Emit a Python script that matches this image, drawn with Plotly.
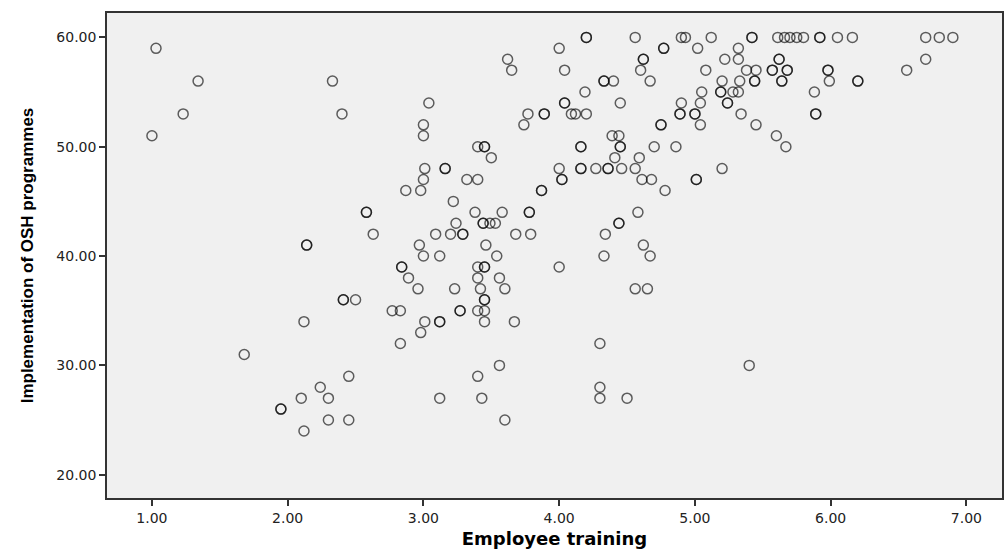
import plotly.graph_objects as go

# Employee training (x) and Implementation of OSH programmes (y), read row by row
x_training = [
    # y = 60
    4.20, 4.20, 4.56, 4.90, 4.93, 5.12, 5.42, 5.42, 5.61, 5.66, 5.70, 5.75, 5.80, 5.92, 5.92, 6.05, 6.16, 6.70, 6.80, 6.90,
    # y = 59
    1.03, 4.00, 4.77, 4.77, 5.02, 5.32,
    # y = 58
    3.62, 4.62, 4.62, 5.22, 5.32, 5.62, 5.62, 6.70,
    # y = 57
    3.65, 4.04, 4.60, 5.08, 5.38, 5.45, 5.57, 5.57, 5.68, 5.68, 5.98, 5.98, 6.56,
    # y = 56
    1.34, 2.33, 4.33, 4.33, 4.40, 4.67, 5.20, 5.33, 5.44, 5.44, 5.64, 5.64, 5.99, 6.20, 6.20,
    # y = 55
    4.19, 5.05, 5.19, 5.19, 5.28, 5.32, 5.88,
    # y = 54
    3.04, 4.04, 4.04, 4.45, 4.90, 5.04, 5.24, 5.24,
    # y = 53
    1.23, 2.40, 3.77, 3.89, 3.89, 4.09, 4.12, 4.20, 4.89, 4.89, 5.00, 5.00, 5.34, 5.89, 5.89,
    # y = 52
    3.00, 3.74, 4.75, 4.75, 5.04, 5.45,
    # y = 51
    1.00, 3.00, 4.39, 4.44, 5.60,
    # y = 50
    3.40, 3.45, 3.45, 4.16, 4.16, 4.45, 4.45, 4.70, 4.86, 5.67,
    # y = 49
    3.50, 4.41, 4.59,
    # y = 48
    3.01, 3.16, 3.16, 4.00, 4.16, 4.16, 4.27, 4.36, 4.36, 4.46, 4.56, 5.20,
    # y = 47
    3.00, 3.32, 3.40, 4.02, 4.02, 4.61, 4.68, 5.01, 5.01,
    # y = 46
    2.87, 2.98, 3.87, 3.87, 4.78,
    # y = 45
    3.22,
    # y = 44
    2.58, 2.58, 3.38, 3.58, 3.78, 3.78, 4.58,
    # y = 43
    3.24, 3.44, 3.44, 3.49, 3.53, 4.44, 4.44,
    # y = 42
    2.63, 3.09, 3.20, 3.29, 3.29, 3.68, 3.79, 4.34,
    # y = 41
    2.14, 2.14, 2.97, 3.46, 4.62,
    # y = 40
    3.00, 3.12, 3.54, 4.33, 4.67,
    # y = 39
    2.84, 2.84, 3.40, 3.45, 3.45, 4.00,
    # y = 38
    2.89, 3.40, 3.56,
    # y = 37
    2.96, 3.23, 3.42, 3.60, 4.56, 4.65,
    # y = 36
    2.41, 2.41, 2.50, 3.45, 3.45,
    # y = 35
    2.77, 2.83, 3.27, 3.27, 3.40, 3.45,
    # y = 34
    2.12, 3.01, 3.12, 3.12, 3.45, 3.67,
    # y = 33
    2.98,
    # y = 32
    2.83, 4.30,
    # y = 31
    1.68,
    # y = 30
    3.56, 5.40,
    # y = 29
    2.45, 3.40,
    # y = 28
    2.24, 4.30,
    # y = 27
    2.10, 2.30, 3.12, 3.43, 4.30, 4.50,
    # y = 26
    1.95, 1.95,
    # y = 25
    2.30, 2.45, 3.60,
    # y = 24
    2.12,
]

y_osh = (
    [60] * 20 + [59] * 6 + [58] * 8 + [57] * 13 + [56] * 15 + [55] * 7 + [54] * 8 +
    [53] * 15 + [52] * 6 + [51] * 5 + [50] * 10 + [49] * 3 + [48] * 12 + [47] * 9 +
    [46] * 5 + [45] * 1 + [44] * 7 + [43] * 7 + [42] * 8 + [41] * 5 + [40] * 5 +
    [39] * 6 + [38] * 3 + [37] * 6 + [36] * 5 + [35] * 6 + [34] * 6 + [33] * 1 +
    [32] * 2 + [31] * 1 + [30] * 2 + [29] * 2 + [28] * 2 + [27] * 6 + [26] * 2 +
    [25] * 3 + [24] * 1
)

x_ticks = [1, 2, 3, 4, 5, 6, 7]
y_ticks = [20, 30, 40, 50, 60]

fig = go.Figure()
fig.add_trace(go.Scatter(
    x=x_training, y=y_osh, mode="markers",
    marker=dict(symbol="circle-open", size=10, color="rgba(0,0,0,0.62)",
                line=dict(width=1.5)),
    showlegend=False, hoverinfo="x+y",
))

tick_font = dict(family="DejaVu Sans, Liberation Sans, Arial", size=14, color="#222222")

fig.update_layout(
    width=1007, height=551,
    margin=dict(l=107, r=3, t=13, b=53),
    paper_bgcolor="white",
    plot_bgcolor="#F0F0F0",
    xaxis=dict(
        range=[0.669, 7.262], tickvals=x_ticks, tickformat=".2f",
        ticks="outside", ticklen=6, tickwidth=1.5, tickcolor="#333333",
        showgrid=False, zeroline=False,
        showline=True, linecolor="#333333", linewidth=1.5, mirror=True,
        tickfont=tick_font,
        title=dict(text="Employee training", standoff=8,
                   font=dict(family="DejaVu Sans, Liberation Sans, Arial", size=18, color="black", weight="bold")),
    ),
    yaxis=dict(
        range=[17.87, 62.23], tickvals=y_ticks, tickformat=".2f",
        ticks="outside", ticklen=6, tickwidth=1.5, tickcolor="#333333",
        showgrid=False, zeroline=False,
        showline=True, linecolor="#333333", linewidth=1.5, mirror=True,
        tickfont=tick_font,
        title=dict(text="Implementation of OSH programmes", standoff=18,
                   font=dict(family="Liberation Sans, Arial", size=17, color="black", weight="bold")),
    ),
)

fig.write_html("out.html")
